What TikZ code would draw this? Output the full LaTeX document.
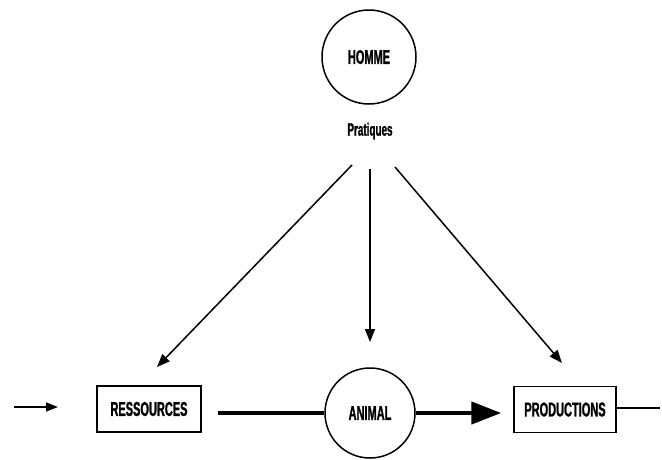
\documentclass[tikz,border=0pt]{standalone}
\usepackage{fontspec}
\newfontfamily\labelfont{Liberation Sans}[FakeStretch=0.55,FakeBold=1.2]
\usetikzlibrary{arrows.meta}
\begin{document}
\begin{tikzpicture}[x=1pt,y=-1pt,
  lbl/.style={font=\labelfont\bfseries\fontsize{20}{20}\selectfont},
  circ/.style={circle,draw,line width=1.5pt,minimum size=#1,inner sep=0pt,lbl},
  boxnode/.style={rectangle,draw,line width=1.5pt,minimum width=#1,minimum height=46pt,inner sep=0pt,lbl},
  thin/.style={line width=1.5pt,-{Triangle[length=13pt,width=10pt]}},
  bigflow/.style={line width=4.5pt}]
  \useasboundingbox (0,0) rectangle (662,459);

  % actors
  \node[circ=94pt] (homme) at (369,57) {HOMME};
  \node[lbl,font=\labelfont\bfseries\fontsize{18}{18}\selectfont] (prat) at (370,131) {Pratiques};

  % chain
  \node[boxnode=104pt] (res) at (149,409) {RESSOURCES};
  \node[circ=90pt] (animal) at (370,413) {ANIMAL};
  \node[boxnode=102pt] (prod) at (565,409.5) {PRODUCTIONS};

  % free ends of the influence arrows
  \coordinate (s1) at (352,165);
  \coordinate (s2) at (370,169);
  \coordinate (s3) at (395,167);
  \coordinate (e1) at (157,367);
  \coordinate (e2) at (370,342);
  \coordinate (e3) at (562,363);
  \draw[thin] (s1) -- (e1);
  \draw[thin] (s2) -- (e2);
  \draw[thin] (s3) -- (e3);

  % input and output
  \coordinate (inA) at (14,407);
  \coordinate (inB) at (58,407);
  \coordinate (outB) at (660,408);
  \draw[line width=1.5pt,-{Triangle[length=12pt,width=9pt]}] (inA) -- (inB);
  \draw[line width=1.5pt] (prod.east |- outB) -- (outB);

  % main flow
  \draw[bigflow,shorten <=16pt] (res.east |- animal.west) -- (animal.west);
  \draw[bigflow,shorten >=12pt,-{Triangle[length=30pt,width=22pt]}] (animal.east) -- (prod.west |- animal.east);
\end{tikzpicture}
\end{document}
